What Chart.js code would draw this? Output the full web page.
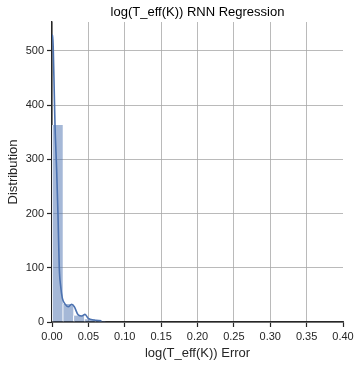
<!DOCTYPE html>
<html>
<head>
<meta charset="utf-8">
<script src="https://cdn.jsdelivr.net/npm/chart.js@4"></script>
<style>
  html, body { margin: 0; padding: 0; background: #fff; }
  #wrap { width: 361px; height: 365px; }
</style>
</head>
<body>
<div id="wrap"><canvas id="chart" width="361" height="365"></canvas></div>
<script>
"use strict";

// ヒストグラム（ビン中心と度数）
const binCenters = [0.0074, 0.0221, 0.0368, 0.0515, 0.0662];
const binCounts = [363, 33, 12, 5, 2];

// KDE 曲線
const kdeX = [0, 0.001, 0.0018, 0.003, 0.0041, 0.0055, 0.0064, 0.0082, 0.010, 0.012,
  0.0142, 0.018, 0.0224, 0.027, 0.0307, 0.036, 0.041, 0.0454, 0.05, 0.057, 0.068];
const kdeY = [522, 529, 500, 430, 364, 312, 280, 200, 100, 65,
  44, 33, 28, 32.6, 28, 13, 11, 14, 6.5, 3.7, 2.4];

const xTicks = [0, 0.05, 0.1, 0.15, 0.2, 0.25, 0.3, 0.35, 0.4];
const yTicks = [0, 100, 200, 300, 400, 500];

const TITLE = "log(T_eff(K)) RNN Regression";
const FONT = "'Liberation Sans', Arial, sans-serif";
const INK = "#262626";
const GRID = "#a8a8a8";

// タイトルはプロット領域の中央に描く
const areaTitle = {
  id: "areaTitle",
  afterDraw(chart) {
    const { ctx, chartArea } = chart;
    ctx.save();
    ctx.fillStyle = "#000";
    ctx.font = `13px ${FONT}`;
    ctx.textAlign = "center";
    ctx.textBaseline = "middle";
    ctx.fillText(TITLE, (chartArea.left + chartArea.right) / 2, 12);
    ctx.restore();
  },
};

new Chart(document.getElementById("chart"), {
  type: "bar",
  data: {
    datasets: [
      {
        type: "line",
        data: kdeX.map((x, i) => ({ x, y: kdeY[i] })),
        borderColor: "#4c72b0",
        borderWidth: 1.6,
        pointRadius: 0,
        cubicInterpolationMode: "monotone",
        fill: false,
        order: 0,
      },
      {
        type: "bar",
        data: binCenters.map((x, i) => ({ x, y: binCounts[i] })),
        backgroundColor: "rgba(76,114,176,0.5)",
        borderColor: "#ffffff",
        borderWidth: { left: 1, right: 0, top: 0, bottom: 0 },
        borderSkipped: false,
        barPercentage: 1,
        categoryPercentage: 1,
        order: 1,
      },
    ],
  },
  plugins: [areaTitle],
  options: {
    responsive: false,
    animation: false,
    layout: { padding: { left: 0, right: 18, top: 22, bottom: 0 } },
    plugins: {
      legend: { display: false },
      tooltip: { enabled: false },
      title: { display: false },
    },
    scales: {
      x: {
        type: "linear",
        min: 0,
        max: 0.4,
        offset: false,
        afterBuildTicks: (s) => { s.ticks = xTicks.map((v) => ({ value: v })); },
        afterFit: (s) => { s.height = 43; },
        ticks: {
          color: INK,
          font: { family: FONT, size: 11 },
          padding: 3,
          maxRotation: 0,
          callback: (v) => Number(v).toFixed(2),
        },
        grid: {
          offset: false,
          color: (c) => (c.tick && c.tick.value >= 0.4 ? "rgba(0,0,0,0)" : GRID),
          lineWidth: 0.8,
          drawTicks: true,
          tickLength: 5,
          tickColor: INK,
          tickWidth: 1.2,
        },
        border: { color: INK, width: 1.4 },
        title: {
          display: true,
          text: "log(T_eff(K)) Error",
          color: INK,
          font: { family: FONT, size: 13 },
          padding: { top: 2, bottom: 4 },
        },
      },
      y: {
        min: 0,
        max: 553,
        afterBuildTicks: (s) => { s.ticks = yTicks.map((v) => ({ value: v })); },
        afterFit: (s) => { s.width = 52; },
        ticks: {
          color: INK,
          font: { family: FONT, size: 11 },
          padding: 3,
        },
        grid: {
          color: GRID,
          lineWidth: 0.8,
          drawTicks: true,
          tickLength: 5,
          tickColor: INK,
          tickWidth: 1.2,
        },
        border: { color: INK, width: 1.4 },
        title: {
          display: true,
          text: "Distribution",
          color: INK,
          font: { family: FONT, size: 13 },
          padding: { top: 6, bottom: 0 },
        },
      },
    },
  },
});
</script>
</body>
</html>
